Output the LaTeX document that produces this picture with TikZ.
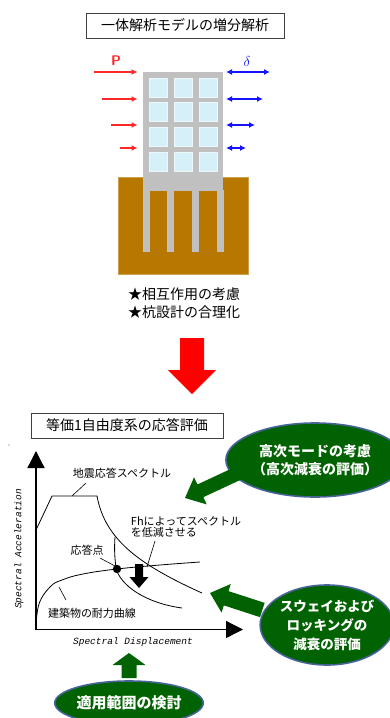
\documentclass[tikz,border=0pt]{standalone}
\usepackage{fontspec}
\setmainfont{Noto Sans CJK JP}
\newfontfamily\axisfont{Liberation Mono}
\usetikzlibrary{arrows.meta,shapes.geometric}

\definecolor{soil}{RGB}{184,120,0}
\definecolor{frame}{RGB}{192,192,192}
\definecolor{glass}{RGB}{214,240,250}
\definecolor{calgreen}{RGB}{0,98,0}
\definecolor{calrim}{RGB}{70,100,150}
\definecolor{pushred}{RGB}{255,40,40}
\definecolor{driftblue}{RGB}{20,20,255}

\tikzset{
  titlebox/.style={draw=black!75,line width=1pt,inner sep=0pt,
    font=\fontsize{14}{16}\selectfont},
  callout/.style={ellipse,fill=calgreen,draw=calrim,line width=1.6pt,
    text=white,align=center,inner sep=0pt,
    font=\fontsize{14}{17.5}\selectfont\bfseries},
  force/.style={pushred,line width=1.3pt,-{Latex[length=6pt,width=6pt]}},
  drift/.style={driftblue,line width=1.3pt,{Latex[length=6pt,width=6pt]}-{Latex[length=6pt,width=6pt]}},
  axis/.style={line width=1.3pt,-{Triangle[length=17pt,width=17pt]}},
  curve/.style={line width=.8pt},
  leader/.style={line width=.6pt},
  axislbl/.style={font=\axisfont\itshape\fontsize{9.5}{11}\selectfont,inner sep=0pt},
}

% fat block arrow: colour, tip, direction, length, half shaft, half head, head length
\newcommand\fatarrow[7]{%
  \fill[#1,shift={#2},rotate=#3] (0,0) -- (-#7,#6) -- (-#7,#5) -- (-#4,#5)
    -- (-#4,-#5) -- (-#7,-#5) -- (-#7,-#6) -- cycle;}

\begin{document}
\begin{tikzpicture}[x=1pt,y=-1pt,font=\fontsize{11}{13}\selectfont]
\useasboundingbox (0,0) rectangle (389,718);

\node[titlebox,minimum width=198pt,minimum height=25pt] (model) at (185,25.5) {一体解析モデルの増分解析};

% ground, building and piles
\fill[soil,draw=soil!70!white,line width=.5pt] (118,177) rectangle (248,274);
\fill[frame] (143,72) rectangle (223,191);
\foreach \x in {143,167,192,217}
  \fill[frame] (\x,190) rectangle (\x+6.5,252);
\foreach \c in {0,1,2}
  \foreach \r in {0,...,3}
    \fill[glass,draw=white!55!glass,line width=.8pt]
      (149+25*\c,78+24.7*\r) rectangle ++(18,19);

% storey loads and drifts
\foreach \y/\s in {72/94,99/102,125/111,148/120}
  \draw[force] (\s,\y) -- (137.5,\y);
\foreach \y/\e in {72/270,99/263,125/255,148/246}
  \draw[drift] (226,\y) -- (\e,\y);
\node[pushred,font=\sffamily\bfseries\fontsize{14}{14}\selectfont] (P) at (116,61) {P};
\node[driftblue,font=\fontsize{15}{15}\selectfont] (delta) at (247,61) {$\delta$};

\node[align=center,font=\fontsize{14}{18}\selectfont] (notes) at (184,303)
  {★相互作用の考慮\\★杭設計の合理化};

\fatarrow{red}{(192,394)}{270}{56}{12}{24}{24}

\node[titlebox,minimum width=192pt,minimum height=25pt] (sdof) at (127,425.5) {等価1自由度系の応答評価};
\fill[black!60] (9,445) circle (.6);

% capacity spectrum chart
\coordinate (O) at (36,629.5);
\draw[axis] (O) -- (36,451);
\draw[axis] (O) -- (243,629.5);
\node[axislbl,rotate=90] (sa) at (19,549) {Spectral Acceleration};
\node[axislbl] (sd) at (133,642) {Spectral Displacement};

\draw[curve] (36,530) -- (52,496) -- (97,496)
  .. controls (105,540) and (140,565) .. (202,593);
\draw[curve] (115,537) .. controls (114,550) and (115,560) .. (116,568)
  .. controls (120,585) and (145,603) .. (182,608);
\draw[curve] plot[smooth,tension=.7] coordinates
  {(36,628) (39,604) (50,587) (62,580) (83,574) (117,569) (160,565) (200,562)};
\fill (117,569) circle (4.2);
\fatarrow{black}{(139,588)}{270}{24}{4}{9.5}{11}

\node (spec) at (122,473) {地震応答スペクトル};
\node[align=left,font=\fontsize{11}{11}\selectfont] (fh) at (186,527)
  {Fhによってスペクトル\\を低減させる};
\node (resp) at (87,550) {応答点};
\node (cap) at (92,613) {建築物の耐力曲線};
\coordinate (spec-a) at (72,496);  \coordinate (spec-b) at (86,483);
\coordinate (fh-a) at (155,541);   \coordinate (fh-b) at (147,567);
\coordinate (resp-a) at (100,558); \coordinate (resp-b) at (115,566);
\coordinate (cap-a) at (59,587);   \coordinate (cap-b) at (66,600);
\draw[leader] (spec-a) -- (spec-b);
\draw[leader] (fh-a) -- (fh-b);
\draw[leader] (resp-a) -- (resp-b);
\draw[leader] (cap-a) -- (cap-b);

% green callouts
\node[callout,minimum width=144pt,minimum height=74pt] (hmode) at (315,460)
  {高次モードの考慮\\（高次減衰の評価）};
\node[callout,minimum width=124pt,minimum height=80pt,
  font=\fontsize{13.5}{19}\selectfont\bfseries] (sway) at (327,625)
  {スウェイおよび\\ロッキングの\\減衰の評価};
\node[callout,minimum width=142pt,minimum height=44pt,
  font=\fontsize{15}{17}\selectfont\bfseries] (range) at (129,703) {適用範囲の検討};
\fatarrow{calgreen}{(185,498)}{205}{60}{7}{15}{17}
\fatarrow{calgreen}{(210,593)}{162}{55}{7.5}{15}{17}
\fatarrow{calgreen}{(129,653)}{90}{25}{7.5}{16.5}{12}
\end{tikzpicture}
\end{document}
